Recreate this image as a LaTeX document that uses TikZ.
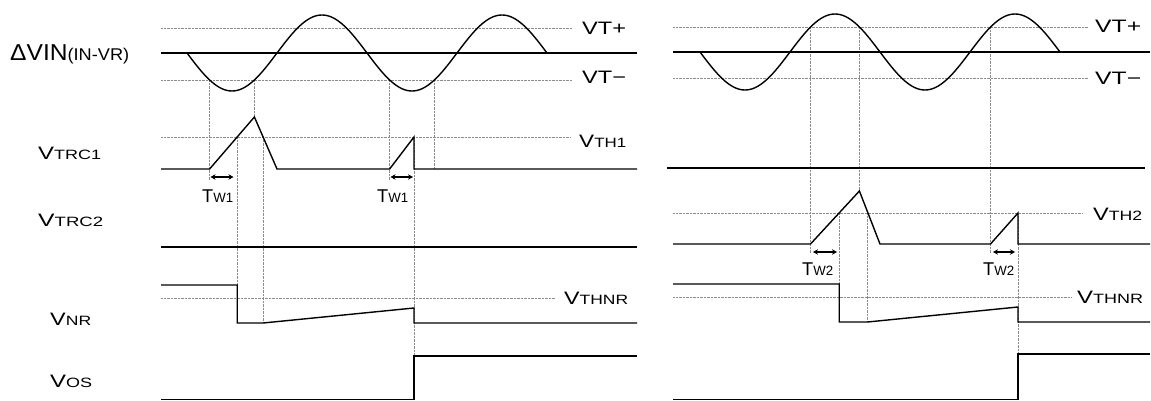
\documentclass[tikz,border=0pt]{standalone}
\usepackage{fontspec}
\usepackage{graphicx}
\setmainfont{Liberation Sans}
\usetikzlibrary{arrows.meta}
\tikzset{
  sig/.style={line width=1.4pt, line join=miter},
  thr/.style={black!45, line width=0.6pt, dash pattern=on 0.7pt off 0.7pt},
  lab/.style={inner sep=0pt, anchor=base west},
  twarr/.style={{Stealth[length=5pt,width=5.5pt]}-{Stealth[length=5pt,width=5.5pt]}, line width=1.2pt}
}
% #1 = target width, #2 = main letters, #3 = subscript letters
\newcommand\SigLab[3]{\resizebox{#1}{\height}{{\fontsize{18}{20}\selectfont #2}{\fontsize{13.5}{15}\selectfont #3}}}
\newcommand\TwLab[1]{\resizebox{31pt}{\height}{{\fontsize{18.5}{20}\selectfont T}{\fontsize{13.5}{15}\selectfont W#1}}}
\begin{document}
\begin{tikzpicture}[x=1pt,y=-1pt]
\useasboundingbox (0,0) rectangle (1151,401);

% ---------- left panel ----------
% threshold lines
\draw[thr] (161,28) -- (572,28);
\draw[thr] (161,80) -- (572,80);
\draw[thr] (161,137) -- (570,137);
\draw[thr] (161,298) -- (555,298);
% vertical guides
\draw[thr] (209.6,80) -- (209.6,180);
\draw[thr] (254.4,80) -- (254.4,117);
\draw[thr] (389.6,80) -- (389.6,180);
\draw[thr] (434.4,80) -- (434.4,169);
\draw[thr] (237.2,137) -- (237.2,285);
\draw[thr] (263.1,137) -- (263.1,323);
\draw[thr] (414,137) -- (414,400);
% input
\draw[sig] (161,53) -- (637,53);
\draw[sig] plot[domain=0:720, samples=145, smooth] ({187+\x/2},{53+38*sin(\x)});
% VTRC1
\draw[sig] (161,169) -- (209.6,169) -- (254.4,117) -- (277,169) -- (389.6,169) -- (414,137) -- (414,169) -- (637,169);
% VTRC2
\draw[sig] (161,247) -- (637,247);
% VNR
\draw[sig] (161,285) -- (237.2,285) -- (237.2,323) -- (263.1,323) -- (414,308) -- (414,323) -- (637,323);
% VOS
\draw[sig] (161,399.5) -- (414,399.5) -- (414,356) -- (637,356);
% Tw arrows
\coordinate (la1) at (210.5,177); \coordinate (lb1) at (233.5,177);
\coordinate (la2) at (390.5,177); \coordinate (lb2) at (413,177);
\draw[twarr] (la1) -- (lb1);
\draw[twarr] (la2) -- (lb2);
\node[lab] (tw1a) at (202,202) {\TwLab{1}};
\node[lab] (tw1b) at (377,202) {\TwLab{1}};

% labels
\node[lab] (dvin) at (10,61) {\resizebox{119pt}{\height}{{\fontsize{23}{25}\selectfont ΔVIN}{\fontsize{17}{19}\selectfont (IN-VR)}}};
\node[lab] (ltrc1) at (38,159) {\SigLab{63pt}{V}{TRC1}};
\node[lab] (ltrc2) at (38,226) {\SigLab{65pt}{V}{TRC2}};
\node[lab] (lnr) at (50,325) {\SigLab{41pt}{V}{NR}};
\node[lab] (los) at (50,387) {\SigLab{42pt}{V}{OS}};
\node[lab] (ltp) at (582,35) {\SigLab{44pt}{VT+}{}};
\node[lab] (ltm) at (582,84) {\SigLab{44pt}{VT−}{}};
\node[lab] (lth1) at (579,147) {\SigLab{47pt}{V}{TH1}};
\node[lab] (lthnr) at (564,304) {\SigLab{64pt}{V}{THNR}};

% ---------- right panel ----------
\draw[thr] (673,27) -- (1088,27);
\draw[thr] (673,78) -- (1088,78);
\draw[thr] (673,213) -- (1082,213);
\draw[thr] (673,297) -- (1072,297);
% vertical guides
\draw[thr] (810.5,27) -- (810.5,253);
\draw[thr] (859.4,27) -- (859.4,191);
\draw[thr] (990.5,27) -- (990.5,253);
\draw[thr] (839.2,213) -- (839.2,284);
\draw[thr] (867.5,213) -- (867.5,322);
\draw[thr] (1018,213) -- (1018,400);
% input
\draw[sig] (673,52) -- (1150,52);
\draw[sig] plot[domain=0:720, samples=145, smooth] ({700+\x/2},{52+38*sin(\x)});
% VTRC1
\draw[sig] (667,168) -- (1145,168);
% VTRC2
\draw[sig] (673,244) -- (810.5,244) -- (859.4,191) -- (880,244) -- (990.5,244) -- (1018,213) -- (1018,244) -- (1150,244);
% VNR
\draw[sig] (673,284) -- (839.2,284) -- (839.2,322) -- (867.5,322) -- (1018,307) -- (1018,322) -- (1150,322);
% VOS
\draw[sig] (673,399.5) -- (1018,399.5) -- (1018,354) -- (1150,354);
% Tw arrows
\coordinate (ra1) at (813,252); \coordinate (rb1) at (837,252);
\coordinate (ra2) at (993,252); \coordinate (rb2) at (1015,252);
\draw[twarr] (ra1) -- (rb1);
\draw[twarr] (ra2) -- (rb2);
\node[lab] (tw2a) at (802,275) {\TwLab{2}};
\node[lab] (tw2b) at (983,275) {\TwLab{2}};

\node[lab] (rtp) at (1095,33) {\SigLab{46pt}{VT+}{}};
\node[lab] (rtm) at (1095,85) {\SigLab{46pt}{VT−}{}};
\node[lab] (rth2) at (1093,220) {\SigLab{49pt}{V}{TH2}};
\node[lab] (rthnr) at (1077,303) {\SigLab{66pt}{V}{THNR}};
\end{tikzpicture}
\end{document}
